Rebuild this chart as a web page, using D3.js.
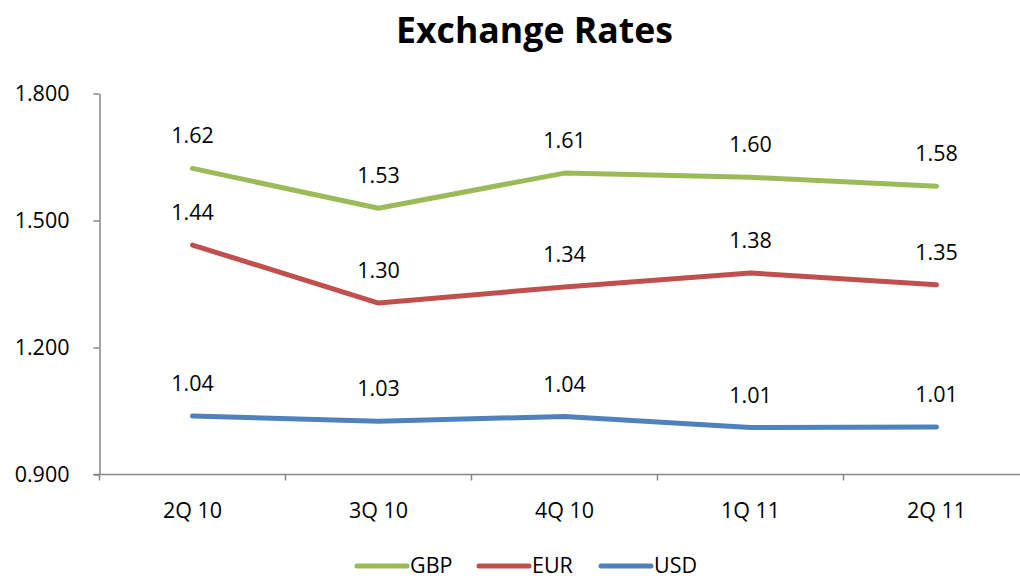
<!DOCTYPE html>
<html><head><meta charset="utf-8">
<script src="https://cdn.jsdelivr.net/npm/d3@7"></script>
<style>
html,body{margin:0;padding:0;background:#fff;}
svg{display:block;}
text{font-family:"Open Sans","Lato",sans-serif;fill:#000;}
</style></head>
<body>
<svg id="chart" width="1020" height="580"></svg>
<script>
const title = "Exchange Rates";
const categories = ["2Q 10","3Q 10","4Q 10","1Q 11","2Q 11"];
const seriesNames = ["GBP","EUR","USD"];
const gbp = [1.623, 1.529, 1.612, 1.602, 1.581];
const eur = [1.442, 1.305, 1.343, 1.376, 1.348];
const usd = [1.038, 1.026, 1.037, 1.011, 1.012];
const gbpLabels = ["1.62","1.53","1.61","1.60","1.58"];
const eurLabels = ["1.44","1.30","1.34","1.38","1.35"];
const usdLabels = ["1.04","1.03","1.04","1.01","1.01"];
const yTicks = [0.9, 1.2, 1.5, 1.8];

const colors = {GBP:"#9BBB59", EUR:"#C0504D", USD:"#4F81BD"};
const series = [
  {name:"GBP", values:gbp, labels:gbpLabels},
  {name:"EUR", values:eur, labels:eurLabels},
  {name:"USD", values:usd, labels:usdLabels}
];

const svg = d3.select("#chart");
const axisColor = "#868686";
const fs = 21.5;

const x = d3.scaleBand().domain(categories).range([99.5, 1029.5]).padding(0);
const y = d3.scaleLinear().domain([0.9, 1.8]).range([474.5, 93.5]);

// title
const t = svg.append("text").attr("x", 534.5).attr("y", 43)
  .attr("text-anchor","middle").attr("font-weight","bold")
  .attr("font-size", 30).text(title);
const tw = t.node().getComputedTextLength();
t.attr("font-size", 30 * 277 / tw);

// y axis
const yAxis = svg.append("g").attr("transform","translate(99.5,0)")
  .call(d3.axisLeft(y).tickValues(yTicks).tickFormat(d3.format(".3f")).tickSize(6).tickSizeOuter(0).tickPadding(24));
yAxis.select(".domain").attr("stroke", axisColor).attr("stroke-width",1.5);
yAxis.selectAll(".tick line").attr("stroke", axisColor).attr("stroke-width",1.5);
yAxis.selectAll(".tick text").attr("font-size",fs).attr("font-family",'"Open Sans","Lato",sans-serif').attr("fill","#000");

// x axis line and boundary ticks
const bounds = categories.map(c => x(c)).concat([x(categories[categories.length-1]) + x.bandwidth()]);
svg.append("line").attr("x1", 93.5).attr("x2", 1020).attr("y1", y(0.9)).attr("y2", y(0.9))
  .attr("stroke", axisColor).attr("stroke-width",1.5);
svg.selectAll(".xtick").data(bounds).join("line").attr("class","xtick")
  .attr("x1", d=>d).attr("x2", d=>d).attr("y1", y(0.9)).attr("y2", y(0.9)+6)
  .attr("stroke", axisColor).attr("stroke-width",1.5);
svg.selectAll(".xlabel").data(categories).join("text").attr("class","xlabel")
  .attr("x", d => x(d) + x.bandwidth()/2).attr("y", 518)
  .attr("text-anchor","middle").attr("font-size",fs).text(d=>d);

// lines
const line = d3.line().x((d,i)=>x(categories[i]) + x.bandwidth()/2).y(d=>y(d));
svg.selectAll(".series").data(series).join("path").attr("class","series")
  .attr("d", d=>line(d.values)).attr("fill","none")
  .attr("stroke", d=>colors[d.name]).attr("stroke-width",5)
  .attr("stroke-linejoin","round").attr("stroke-linecap","round");

// data labels
series.forEach(s => {
  svg.selectAll(".lbl-"+s.name).data(s.values).join("text").attr("class","lbl-"+s.name)
    .attr("x",(d,i)=>x(categories[i]) + x.bandwidth()/2)
    .attr("y", d=>y(d) - 25)
    .attr("text-anchor","middle").attr("font-size",fs)
    .text((d,i)=>s.labels[i]);
});

// legend
const legendX = [355, 477, 599];
const lg = svg.selectAll(".legend").data(seriesNames).join("g").attr("class","legend")
  .attr("transform",(d,i)=>`translate(${legendX[i]},566)`);
lg.append("line").attr("x1",2).attr("x2",52).attr("y1",0).attr("y2",0)
  .attr("stroke", d=>colors[d]).attr("stroke-width",5).attr("stroke-linecap","round");
lg.append("text").attr("x",55).attr("y",7).attr("font-size",fs).text(d=>d);
</script>
</body></html>
